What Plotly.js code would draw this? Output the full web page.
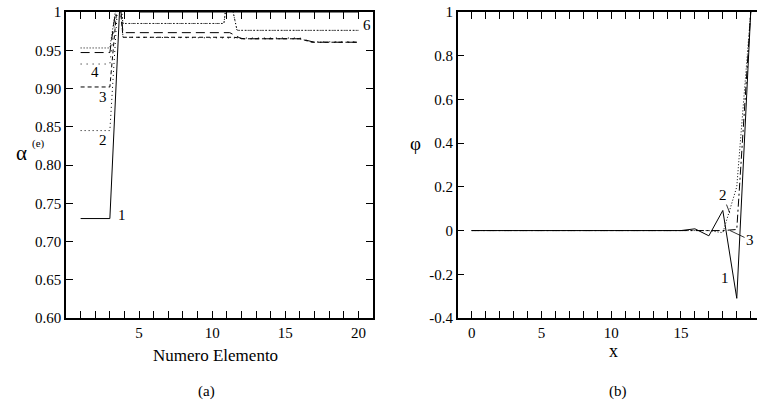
<!DOCTYPE html>
<html><head><meta charset="utf-8">
<script src="https://cdn.plot.ly/plotly-3.0.1.min.js"></script>
<style>html,body{margin:0;padding:0;background:#fff;overflow:hidden}#chart{width:757px;height:403px}</style>
</head><body><div id="chart"></div>
<script>
// ---------- Panel (a): alpha per element ----------
const elemA1 = [1, 2, 3, 4, 5, 20];
const alphaA1 = [0.73, 0.73, 0.73, 1.14, 1.0, 1.0];
const elemA2 = [1, 3, 3.6, 3.9, 10.8, 11.1, 11.7, 20];
const alphaA2 = [0.845, 0.845, 1.03, 0.985, 0.985, 1.03, 0.976, 0.976];
const elemA3 = [1, 3, 3.6, 3.9, 11.5, 12.2, 16, 16.8, 20];
const alphaA3 = [0.902, 0.902, 1.03, 0.967, 0.967, 0.965, 0.965, 0.9605, 0.9605];
const elemA4 = [1, 3, 3.6, 3.9, 12, 16, 16.8, 20];
const alphaA4 = [0.932, 0.932, 1.03, 0.967, 0.966, 0.966, 0.961, 0.961];
const elemA5 = [1, 3, 3.6, 3.9, 11.2, 12, 16, 17, 20];
const alphaA5 = [0.947, 0.947, 1.03, 0.973, 0.973, 0.965, 0.965, 0.9605, 0.9605];
const elemA6 = [1, 3, 3.6, 3.9, 10.8, 11.1, 11.7, 20];
const alphaA6 = [0.953, 0.953, 1.03, 0.985, 0.985, 1.03, 0.976, 0.976];
const yTickValsA = [0.60, 0.65, 0.70, 0.75, 0.80, 0.85, 0.90, 0.95, 1];
const yTickTextA = ["0.60", "0.65", "0.70", "0.75", "0.80", "0.85", "0.90", "0.95", "1"];
const xTickValsA = [1,2,3,4,5,6,7,8,9,10,11,12,13,14,15,16,17,18,19,20];
const xTickTextA = ["","","","","5","","","","","10","","","","","15","","","","","20"];
const curveLabelsA = ["1", "2", "3", "4", "6"];
const labelXA = [3.81, 2.55, 2.55, 1.98, 20.57];
const labelYA = [0.7346, 0.8327, 0.889, 0.922, 0.983];

// ---------- Panel (b): phi vs x ----------
const xB = [0,1,2,3,4,5,6,7,8,9,10,11,12,13,14,15,16,17,18,19,20];
const phiB1 = [0,0,0,0,0,0,0,0,0,0,0,0,0,0,0,0,0.008,-0.024,0.092,-0.31,1.0];
const phiB2 = [0,0,0,0,0,0,0,0,0,0,0,0,0,0,0,0,0,0,-0.01,0.2,1.0];
const phiB3 = [0,0,0,0,0,0,0,0,0,0,0,0,0,0,0,0,0,0,0,0.005,1.0];
const yTickValsB = [-0.4, -0.2, 0, 0.2, 0.4, 0.6, 0.8, 1];
const yTickTextB = ["-0.4", "-0.2", "0", "0.2", "0.4", "0.6", "0.8", "1"];
const xTickValsB = [0,1,2,3,4,5,6,7,8,9,10,11,12,13,14,15,16,17,18,19,20];
const xTickTextB = ["0","","","","","5","","","","","10","","","","","15","","","","","20"];

const FONT = '"Liberation Serif", "Times New Roman", serif';
const ln = (dash) => ({color: "black", width: 1, dash: dash});

const traces = [
  {x: elemA1, y: alphaA1, mode: "lines", line: ln("solid"), xaxis: "x", yaxis: "y"},
  {x: elemA2, y: alphaA2, mode: "lines", line: ln("1px,3px"), xaxis: "x", yaxis: "y"},
  {x: elemA3, y: alphaA3, mode: "lines", line: ln("4px,3px"), xaxis: "x", yaxis: "y"},
  {x: elemA4, y: alphaA4, mode: "lines", line: ln("1px,5px"), xaxis: "x", yaxis: "y"},
  {x: elemA5, y: alphaA5, mode: "lines", line: ln("9px,5px"), xaxis: "x", yaxis: "y"},
  {x: elemA6, y: alphaA6, mode: "lines", line: ln("1px,2px"), xaxis: "x", yaxis: "y"},
  {x: xB, y: phiB1, mode: "lines", line: ln("solid"), xaxis: "x2", yaxis: "y2"},
  {x: xB, y: phiB2, mode: "lines", line: ln("1px,2px"), xaxis: "x2", yaxis: "y2"},
  {x: xB, y: phiB3, mode: "lines", line: ln("8px,3px,2px,3px"), xaxis: "x2", yaxis: "y2"}
];

const axisCommon = {
  showline: true, linecolor: "black", linewidth: 1.5,
  ticks: "inside", ticklen: 7, tickwidth: 1.2, tickcolor: "black",
  showgrid: false, zeroline: false,
  tickfont: {family: FONT, size: 15, color: "black"}
};

const annotations = [];
const tfont = (s) => ({family: FONT, size: s, color: "black"});
curveLabelsA.forEach((t, i) => annotations.push({
  text: t, x: labelXA[i], y: labelYA[i], xref: "x", yref: "y", showarrow: false, font: tfont(15)
}));
annotations.push({text: "1", x: 18.16, y: -0.218, xref: "x2", yref: "y2", showarrow: false, font: tfont(15)});
annotations.push({text: "2", x: 18.5, y: 0.08, xref: "x2", yref: "y2", showarrow: true,
  arrowhead: 0, arrowwidth: 0.8, arrowcolor: "black", ax: -7, ay: -18, standoff: 0, font: tfont(15)});
annotations.push({text: "3", x: 18.52, y: 0, xref: "x2", yref: "y2", showarrow: true,
  arrowhead: 0, arrowwidth: 0.8, arrowcolor: "black", ax: 20, ay: 9.5, standoff: 0, font: tfont(15)});
const paperText = (text, px, py, size) => ({text: text, x: px / 757, y: 1 - py / 403,
  xref: "paper", yref: "paper", showarrow: false, xanchor: "center", yanchor: "middle", font: tfont(size)});
annotations.push(paperText("Numero Elemento", 215, 355, 17));
annotations.push(paperText("x", 613, 351, 18));
annotations.push(paperText("(a)", 206, 391, 15));
annotations.push(paperText("(b)", 618, 391, 15));
annotations.push(paperText("α", 21, 153, 21));
annotations.push(paperText("(e)", 38, 143, 11));
annotations.push(paperText("φ", 415, 143, 19));

const layout = {
  width: 757, height: 403,
  margin: {l: 0, r: 0, t: 0, b: 0},
  paper_bgcolor: "white", plot_bgcolor: "white",
  showlegend: false,
  font: {family: FONT, color: "black"},
  xaxis: Object.assign({}, axisCommon, {domain: [66 / 757, 373 / 757], range: [0, 21],
    tickmode: "array", tickvals: xTickValsA, ticktext: xTickTextA, mirror: "ticks", anchor: "y"}),
  yaxis: Object.assign({}, axisCommon, {domain: [1 - 318 / 403, 1 - 12 / 403], range: [0.6, 1],
    tickmode: "array", tickvals: yTickValsA, ticktext: yTickTextA, mirror: "ticks", anchor: "x"}),
  xaxis2: Object.assign({}, axisCommon, {domain: [457.7 / 757, 1], range: [-1, 20.45],
    tickmode: "array", tickvals: xTickValsB, ticktext: xTickTextB, mirror: "ticks", anchor: "y2"}),
  yaxis2: Object.assign({}, axisCommon, {domain: [1 - 318 / 403, 1 - 12 / 403], range: [-0.4, 1],
    tickmode: "array", tickvals: yTickValsB, ticktext: yTickTextB, mirror: false, anchor: "x2"}),
  annotations: annotations
};

Plotly.newPlot("chart", traces, layout, {displayModeBar: false});
</script></body></html>
